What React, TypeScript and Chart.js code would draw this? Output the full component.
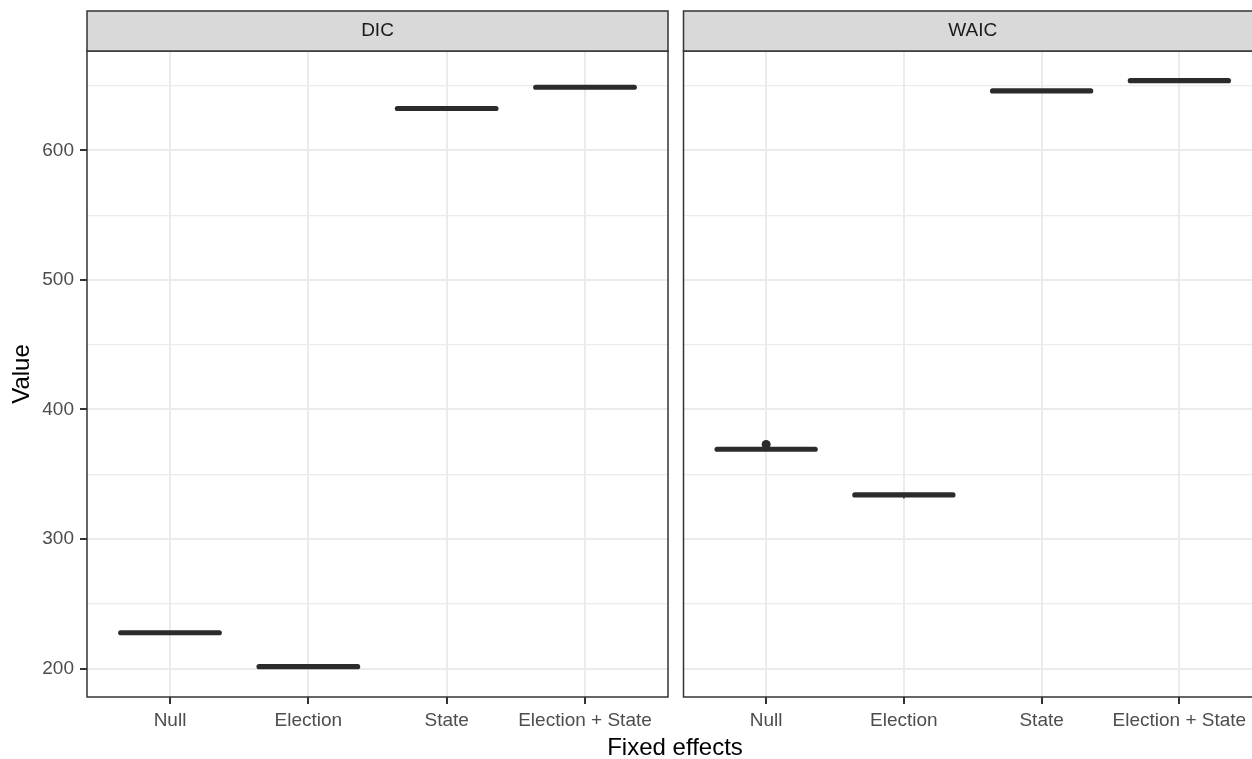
import React, { useEffect, useRef } from "react";
import { Chart, registerables } from "chart.js";

Chart.register(...registerables);

// ---------- data ----------
const categories = ["Null", "Election", "State", "Election + State"];
const panelTitles = ["DIC", "WAIC"];

const dicMedian = [227.6, 201.4, 632.4, 648.8];
const dicLow = [226.4, 200.9, 632.0, 648.4];
const dicHigh = [228.2, 202.0, 632.8, 649.2];

const waicMedian = [369.3, 334.0, 646.0, 653.9];
const waicLow = [368.6, 331.2, 645.6, 653.5];
const waicHigh = [370.0, 334.5, 646.4, 654.3];
const waicOutlierX = [0];
const waicOutlierY = [373.0];

const yMajorTicks = [200, 300, 400, 500, 600];
const yGridTicks = [200, 250, 300, 350, 400, 450, 500, 550, 600, 650];
const yMin = 178;
const yMax = 676.8;

const xTitle = "Fixed effects";
const yTitle = "Value";

// ---------- style ----------
const FONT = "'Liberation Sans', Arial, Helvetica, sans-serif";
const DARK = "#2b2b2b";
const GRID = "#EBEBEB";
const BOX_WIDTH = 0.75;

type PanelProps = {
  title: string;
  median: number[];
  low: number[];
  high: number[];
  outX: number[];
  outY: number[];
  showY: boolean;
  left: number;
  width: number;
  padLeft: number;
  padRight: number;
};

function Panel(props: PanelProps) {
  const ref = useRef<HTMLCanvasElement | null>(null);

  useEffect(() => {
    const canvas = ref.current;
    if (!canvas) return;
    const { title, median, low, high, outX, outY, showY, padLeft, padRight } = props;

    const panelPlugin = {
      id: "facetPanel",
      afterDatasetsDraw(chart: any) {
        const { ctx, chartArea: a, scales } = chart;
        const x = scales.x;
        const y = scales.y;
        ctx.save();
        ctx.beginPath();
        ctx.rect(a.left, a.top, a.right - a.left, a.bottom - a.top);
        ctx.clip();
        ctx.strokeStyle = DARK;
        median.forEach((m, i) => {
          const cx = x.getPixelForValue(i);
          const hw = x.getPixelForValue(i + BOX_WIDTH / 2) - cx;
          // whisker
          ctx.lineWidth = 1.5;
          ctx.lineCap = "butt";
          ctx.beginPath();
          ctx.moveTo(cx, y.getPixelForValue(low[i]));
          ctx.lineTo(cx, y.getPixelForValue(high[i]));
          ctx.stroke();
          // collapsed box + median
          const ym = y.getPixelForValue(m);
          ctx.lineWidth = 5.2;
          ctx.lineCap = "round";
          ctx.beginPath();
          ctx.moveTo(cx - hw + 2.6, ym);
          ctx.lineTo(cx + hw - 2.6, ym);
          ctx.stroke();
        });
        ctx.restore();
      },
      afterDraw(chart: any) {
        const { ctx, chartArea: a } = chart;
        ctx.save();
        // panel border
        ctx.strokeStyle = "#333333";
        ctx.lineWidth = 1.5;
        ctx.strokeRect(a.left, a.top, a.right - a.left, a.bottom - a.top);
        // strip
        const stripH = 40;
        ctx.fillStyle = "#D9D9D9";
        ctx.fillRect(a.left, a.top - stripH, a.right - a.left, stripH);
        ctx.strokeRect(a.left, a.top - stripH, a.right - a.left, stripH);
        ctx.fillStyle = "#1A1A1A";
        ctx.font = `19px ${FONT}`;
        ctx.textAlign = "center";
        ctx.textBaseline = "middle";
        ctx.fillText(title, (a.left + a.right) / 2, a.top - stripH / 2);
        ctx.restore();
      },
    };

    const chart = new Chart(canvas, {
      type: "scatter",
      data: {
        datasets: [
          {
            data: outX.map((xv, i) => ({ x: xv, y: outY[i] })),
            pointRadius: 4.5,
            pointHoverRadius: 4.5,
            pointBackgroundColor: DARK,
            pointBorderWidth: 0,
          },
        ],
      },
      options: {
        responsive: false,
        animation: false,
        events: [],
        layout: { padding: { top: 51, left: padLeft, right: padRight, bottom: 0 } },
        plugins: { legend: { display: false }, tooltip: { enabled: false } },
        scales: {
          x: {
            type: "linear",
            min: -0.6,
            max: 3.6,
            afterBuildTicks: (ax: any) => {
              ax.ticks = categories.map((_, i) => ({ value: i }));
            },
            afterFit: (s: any) => {
              s.height = 62;
            },
            ticks: {
              callback: (v: any) => categories[Number(v)],
              color: "#4D4D4D",
              font: { family: FONT, size: 19 },
              padding: 5,
              maxRotation: 0,
              autoSkip: false,
            },
            grid: {
              color: GRID,
              lineWidth: 2,
              drawTicks: true,
              tickLength: 7,
              tickColor: "#333333",
              tickWidth: 2,
            },
            border: { display: false },
          },
          y: {
            type: "linear",
            min: yMin,
            max: yMax,
            afterBuildTicks: (ax: any) => {
              ax.ticks = yGridTicks.map((v) => ({ value: v }));
            },
            afterFit: (s: any) => {
              s.width = showY ? 87 : 0;
            },
            ticks: {
              display: showY,
              callback: (v: any) => (yMajorTicks.includes(Number(v)) ? String(v) : ""),
              color: "#4D4D4D",
              font: { family: FONT, size: 19 },
              padding: 6,
            },
            title: {
              display: showY,
              text: yTitle,
              color: "#000000",
              font: { family: FONT, size: 24 },
              padding: { top: 8, bottom: 0 },
            },
            grid: {
              color: GRID,
              lineWidth: (c: any) => (yMajorTicks.includes(c.tick?.value) ? 2 : 1.2),
              drawTicks: showY,
              tickLength: 7,
              tickWidth: 2,
              tickColor: (c: any) =>
                yMajorTicks.includes(c.tick?.value) ? "#333333" : "rgba(0,0,0,0)",
            },
            border: { display: false },
          },
        },
      },
      plugins: [panelPlugin],
    } as any);

    return () => chart.destroy();
  }, []);

  return (
    <canvas
      ref={ref}
      width={props.width}
      height={759}
      style={{
        position: "absolute",
        left: props.left,
        top: 0,
        width: props.width,
        height: 759,
        display: "block",
      }}
    />
  );
}

export default function App() {
  return (
    <div
      style={{
        position: "absolute",
        left: 0,
        top: 0,
        width: 1252,
        height: 759,
        overflow: "hidden",
        background: "#ffffff",
        fontFamily: FONT,
      }}
    >
      <Panel
        title={panelTitles[0]}
        median={dicMedian}
        low={dicLow}
        high={dicHigh}
        outX={[]}
        outY={[]}
        showY={true}
        left={0}
        width={672}
        padLeft={0}
        padRight={4}
      />
      <Panel
        title={panelTitles[1]}
        median={waicMedian}
        low={waicLow}
        high={waicHigh}
        outX={waicOutlierX}
        outY={waicOutlierY}
        showY={false}
        left={679}
        width={600}
        padLeft={2}
        padRight={17}
      />
      <div
        style={{
          position: "absolute",
          left: 575,
          top: 735,
          width: 200,
          textAlign: "center",
          fontSize: 24,
          lineHeight: "24px",
          color: "#000000",
          whiteSpace: "nowrap",
        }}
      >
        {xTitle}
      </div>
    </div>
  );
}
